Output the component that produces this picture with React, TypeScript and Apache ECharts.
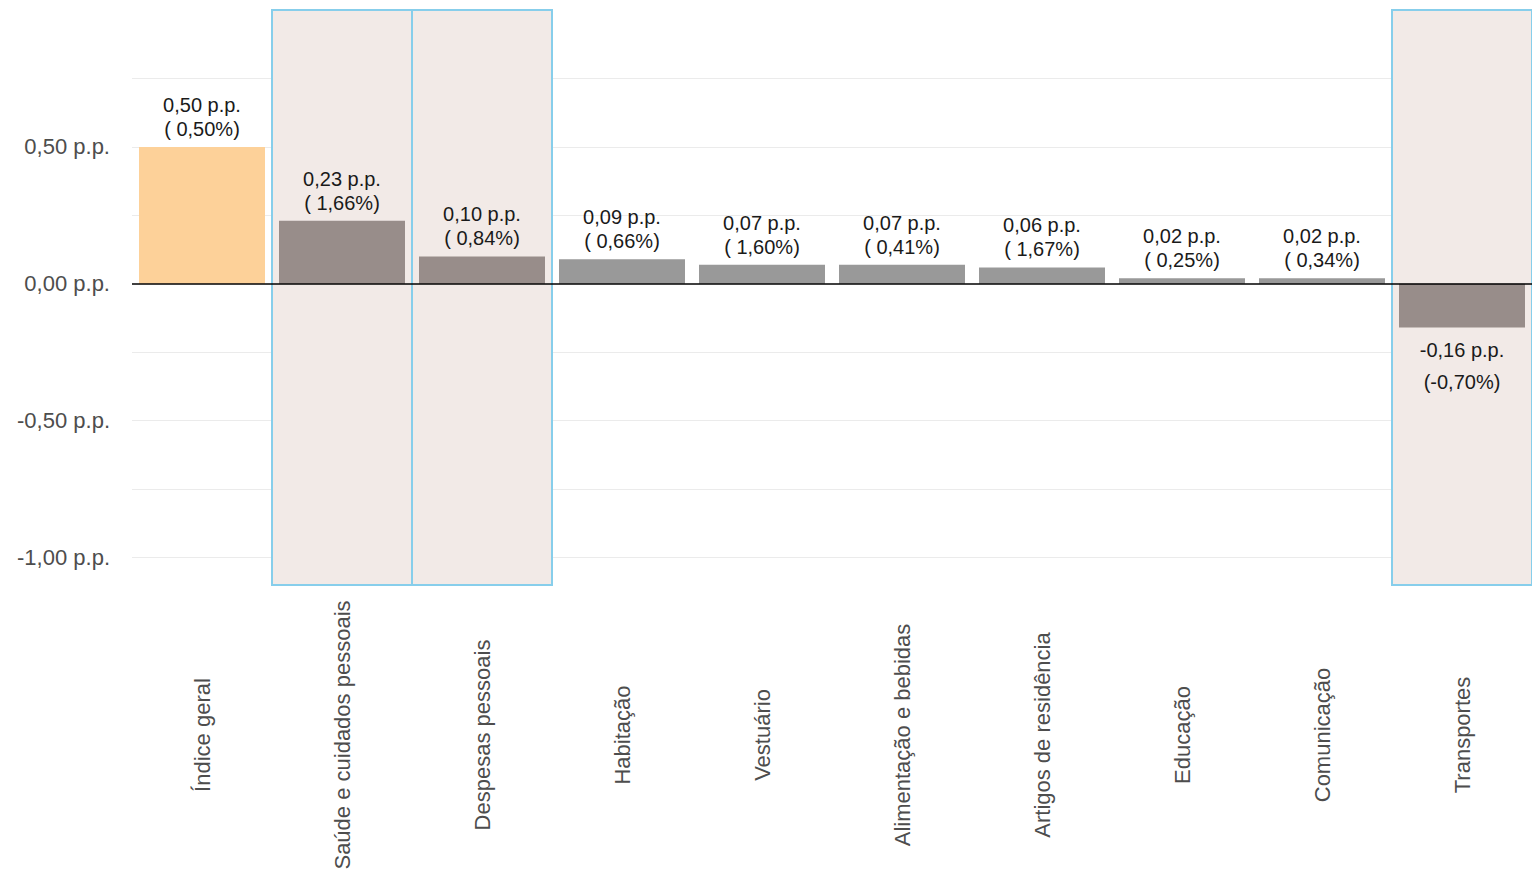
import { useEffect, useRef } from "react"
import * as echarts from "echarts"

const categories = [
  "Índice geral",
  "Saúde e cuidados pessoais",
  "Despesas pessoais",
  "Habitação",
  "Vestuário",
  "Alimentação e bebidas",
  "Artigos de residência",
  "Educação",
  "Comunicação",
  "Transportes",
]
const contributions = [0.5, 0.23, 0.1, 0.09, 0.07, 0.07, 0.06, 0.02, 0.02, -0.16]
const variations = [0.5, 1.66, 0.84, 0.66, 1.6, 0.41, 1.67, 0.25, 0.34, -0.7]
const highlighted = ["Saúde e cuidados pessoais", "Despesas pessoais", "Transportes"]
const gridValues = [0.75, 0.5, 0.25, -0.25, -0.5, -0.75, -1.0]
const tickValues = [0.5, 0, -0.5, -1.0]

const fmt = (v: number) => v.toFixed(2).replace(".", ",")

export default function App() {
  const ref = useRef<HTMLDivElement>(null)
  useEffect(() => {
    if (!ref.current) return
    const chart = echarts.init(ref.current, undefined, { renderer: "svg" })
    const font = "Liberation Sans, Arial, sans-serif"
    const tickLabel = (v: number) => ({
      show: tickValues.includes(v),
      position: "start",
      formatter: `${fmt(v)} p.p.`,
      fontSize: 22,
      color: "#4d4d4d",
      fontFamily: font,
      distance: 22,
    })
    chart.setOption({
      animation: false,
      grid: { left: 132, right: -5, top: 10, bottom: 294 },
      xAxis: {
        type: "category",
        data: categories,
        axisLine: { show: false },
        axisTick: { show: false },
        axisLabel: {
          rotate: 90,
          align: "center",
          verticalAlign: "middle",
          fontSize: 22,
          color: "#4d4d4d",
          fontFamily: font,
          margin: 150,
          interval: 0,
        },
      },
      yAxis: {
        type: "value",
        min: -1.1,
        max: 1.0,
        splitLine: { show: false },
        axisLabel: { show: false },
      },
      series: [
        {
          type: "line",
          data: [],
          z: 0,
          markLine: {
            silent: true,
            symbol: "none",
            z: 0,
            data: gridValues.map((v) => ({
              yAxis: v,
              lineStyle: { color: "#ebebeb", width: 1, type: "solid" },
              label: tickLabel(v),
            })),
          },
        },
        {
          type: "bar",
          data: categories.map(() => "-"),
          z: 1,
          barGap: "-100%",
          barCategoryGap: "10%",
          markArea: {
            silent: true,
            z: 1,
            itemStyle: { color: "#f2eae7", borderColor: "#87ceeb", borderWidth: 2 },
            data: highlighted.map((c) => [
              { xAxis: c, yAxis: 1.0 },
              { xAxis: c, yAxis: -1.1 },
            ]),
          },
        },
        {
          type: "bar",
          z: 2,
          barGap: "-100%",
          barCategoryGap: "10%",
          data: contributions.map((v, i) => ({
            value: v,
            itemStyle: {
              color: i === 0 ? "#fdd199" : highlighted.includes(categories[i]) ? "#988d8a" : "#999999",
            },
            label: {
              show: true,
              position: v >= 0 ? "top" : "bottom",
              distance: 6,
              lineHeight: v >= 0 ? 24 : 32,
              formatter: `${fmt(v)} p.p.\n(${variations[i] >= 0 ? " " : ""}${fmt(variations[i])}%)`,
            },
          })),
          label: { fontSize: 20, color: "#1a1a1a", fontFamily: font },
        },
        {
          type: "line",
          data: [],
          z: 3,
          markLine: {
            silent: true,
            symbol: "none",
            z: 3,
            data: [
              {
                yAxis: 0,
                lineStyle: { color: "#000", width: 1.5, type: "solid" },
                label: tickLabel(0),
              },
            ],
          },
        },
      ],
    })
    return () => chart.dispose()
  }, [])
  return <div ref={ref} style={{ position: "absolute", left: 0, top: 0, width: 1532, height: 879 }} />
}
